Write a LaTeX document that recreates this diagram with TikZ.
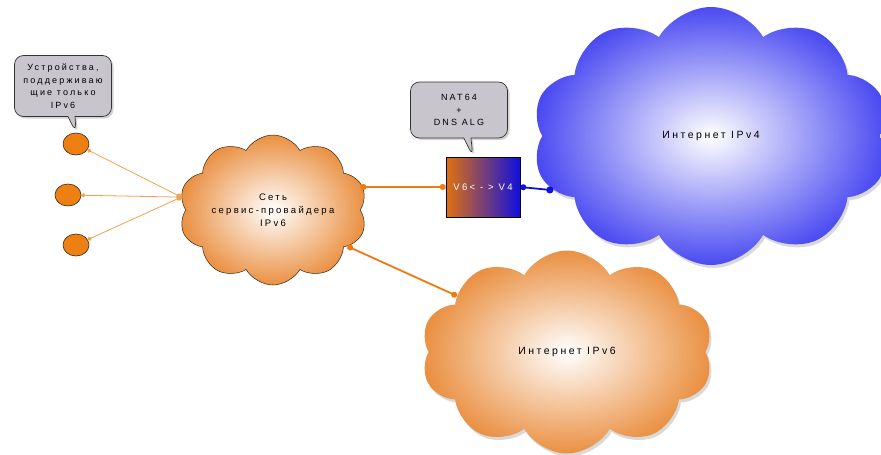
\documentclass[tikz,border=0pt]{standalone}
\usepackage{fontspec}
\setmainfont{Liberation Sans}
\usetikzlibrary{shapes.symbols,shapes.callouts,shapes.geometric,shadows,arrows.meta}
\definecolor{devorange}{HTML}{EE7F12}
\definecolor{cloudorange}{HTML}{EA9042}
\definecolor{lineorange}{HTML}{F07A12}
\definecolor{thinorange}{HTML}{F0A050}
\definecolor{cloudblue}{HTML}{4A4AF2}
\definecolor{boxblue}{HTML}{1010DD}
\definecolor{boxorange}{HTML}{E07010}
\definecolor{calloutgray}{HTML}{C9C5CC}
\newfontfamily\spaced[LetterSpace=24]{Liberation Sans}
\begin{document}
\begin{tikzpicture}[x=1pt,y=-1pt,
  txt/.style={font=\spaced\fontsize{9.5}{13}\selectfont, align=center},
  bigtxt/.style={font=\spaced\fontsize{10.5}{13}\selectfont},
  devnode/.style={ellipse, draw=black!70!brown, line width=0.6pt, fill=devorange, minimum width=26pt, minimum height=22pt, inner sep=0pt},
  callbox/.style={rectangle callout, rounded corners=9pt, draw=black!80, line width=0.7pt, fill=calloutgray, inner sep=2pt, align=center, drop shadow={opacity=0.35, shadow xshift=2pt, shadow yshift=-2pt}},
  cloudnode/.style={cloud, cloud puffs=10, cloud puff arc=120, cloud ignores aspect, inner sep=0pt, txt},
]
\useasboundingbox (0,0) rectangle (881,455);

% clouds
\node[cloudnode, bigtxt, minimum width=358pt, minimum height=258pt, inner color=white, outer color=cloudblue,
      drop shadow={opacity=0.3, shadow xshift=2pt, shadow yshift=-3pt}] (v4) at (711,136) {Интернет IPv4};
\node[cloudnode, bigtxt, minimum width=292pt, minimum height=203pt, inner color=white, outer color=cloudorange,
      drop shadow={opacity=0.3, shadow xshift=2pt, shadow yshift=-3pt}] (v6) at (567,352) {Интернет IPv6};
\node[cloudnode, minimum width=188pt, minimum height=150pt, draw=black!70!brown, line width=0.5pt,
      inner color=white, outer color=cloudorange] (sp) at (273,210) {Сеть\\сервис-провайдера\\IPv6};

% devices
\node[devnode] (d1) at (76,144) {};
\node[devnode] (d2) at (68,195) {};
\node[devnode] (d3) at (76,245) {};

% translator box
\node[draw=black, line width=0.6pt, minimum width=74pt, minimum height=60pt, left color=boxorange, right color=boxblue,
      text=white, font=\spaced\fontsize{9.5}{11}\selectfont, inner sep=0pt] (box) at (483,187) {V6< - > V4};

% callouts
\node[callbox, font=\spaced\fontsize{9}{12.5}\selectfont, minimum width=97pt, minimum height=61pt,
      callout absolute pointer={(d1.north)}] (c1) at (63,86)
  {Устройства,\\поддерживаю\\щие только\\IPv6};
\node[callbox, font=\spaced\fontsize{9}{12.5}\selectfont, minimum width=97pt, minimum height=56pt,
      callout absolute pointer={(box.north -| 473,0)}] (c2) at (459,110)
  {NAT64\\+\\DNS ALG};

% connectors
\draw[thinorange, line width=0.8pt, {Circle[length=5pt]}-{Circle[length=4pt]}] (sp.172) -- (d1);
\draw[thinorange, line width=0.8pt, {Circle[length=5pt]}-{Circle[length=4pt]}] (sp.172) -- (d2);
\draw[thinorange, line width=0.8pt, {Circle[length=5pt]}-{Circle[length=4pt]}] (sp.172) -- (d3);
\draw[lineorange, line width=1.8pt, {Circle[length=6pt]}-{Circle[length=6pt]}] (box.west -| sp.east) -- (box.west);
\draw[boxblue, line width=1.8pt, {Circle[length=6pt]}-{Circle[length=7pt]}] (box.east) -- (v4.199);
\draw[lineorange, line width=1.8pt, {Circle[length=6pt]}-{Circle[length=6pt]}] (sp.-26) -- (v6.153);
\end{tikzpicture}
\end{document}
